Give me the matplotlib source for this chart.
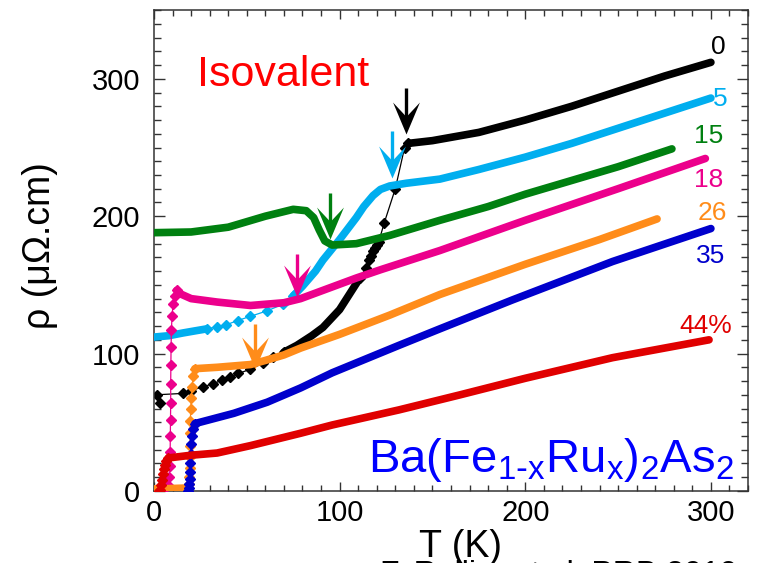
import matplotlib
matplotlib.use("Agg")
import matplotlib.pyplot as plt
from matplotlib.ticker import MultipleLocator
from matplotlib.path import Path

plt.rcParams['font.family'] = ['Liberation Sans', 'DejaVu Sans']
plt.rcParams['mathtext.default'] = 'regular'

# ---- data (T in K, rho in uOhm.cm) ----
# x = 0
T0_lo = [3.0, 1.5, 15.8, 20, 26.6, 32, 36.4, 41, 45.5, 51.7, 58.7, 64, 70]
R0_lo = [64, 70, 71, 73, 76, 78, 80.6, 83, 85.5, 88.5, 93, 97.5, 101]
T0_mid = [70, 77, 85, 91, 100, 109, 111]
R0_mid = [101, 106, 113, 119, 132, 151, 155]
T0_tr = [111, 114, 116, 117, 118, 119, 120, 121, 124, 130, 135, 137]
R0_tr = [155, 162, 168, 171, 175, 177, 179, 181, 195, 220, 250, 253]
T0_hi = [137, 150, 175, 200, 225, 250, 275, 300]
R0_hi = [253, 255, 261, 270, 280, 291, 302, 312]

# x = 5
T5_lo = [0, 8, 15.6, 22, 28.5]
R5_lo = [112, 113, 115, 116.5, 118]
T5_mid = [28.5, 34, 39, 45, 51.7, 60.7, 69.7, 75]
R5_mid = [118, 119.5, 121, 124, 127, 131, 136, 142]
T5_hi = [75, 80, 87, 91, 100, 109, 113, 118, 122, 127, 136, 154, 175, 200, 225, 250, 275, 300]
R5_hi = [142, 149, 160, 168, 183, 199, 207, 215, 219.5, 222, 224, 227, 234, 243, 253, 264, 275, 286]

# x = 15
T15 = [0, 20, 40, 60, 75, 82, 86, 89, 92, 96, 109, 127, 154, 180, 200, 225, 250, 279]
R15 = [188, 188.5, 192, 200, 205, 204, 199, 190, 182, 179, 180, 186, 197, 207, 216, 226, 236, 249]

# x = 18
T18_tr = [2, 4, 6, 7.5, 8.3, 8.6, 8.7, 8.8, 8.9, 9.0, 9.0, 9.1, 9.2, 9.4, 9.7, 10.3, 11.2, 12.2]
R18_tr = [1, 1.5, 2.5, 4, 10, 18, 28, 40, 52, 64, 78, 92, 105, 117, 127, 136, 142, 146]
T18 = [12.2, 15, 20, 34, 52, 70, 79, 91, 109, 122, 154, 200, 250, 297]
R18 = [146, 143, 140, 137.5, 135, 137, 140, 146, 155, 161, 175, 197, 220, 242]

# x = 26
T26_sc = [0, 5, 10, 15, 18]
R26_sc = [1.5, 1.5, 1.8, 2, 2.2]
T26_tr = [18, 18.6, 19, 19.2, 19.3, 19.4, 19.5, 19.6, 19.8, 20.1, 20.5, 21.2, 22]
R26_tr = [2.2, 5, 10, 17, 25, 33, 42, 51, 60, 68, 76, 84, 89]
T26 = [22, 34, 52, 60, 70, 79, 100, 127, 154, 200, 240, 271]
R26 = [89, 90, 92, 95, 99, 104, 114, 128, 143, 165, 183, 198]

# x = 35
T35_tr = [18.5, 18.8, 19.0, 19.2, 19.4, 19.6, 19.8, 20.1, 20.5, 21, 22]
R35_tr = [0, 2, 5, 9, 14, 20, 27, 34, 40, 45, 49]
T35 = [22, 43, 61, 79, 96, 132, 154, 193, 247, 300]
R35 = [49, 56.5, 64.6, 75, 86, 106, 118, 139, 167, 191]

# x = 44
T44_tr = [2.5, 3.2, 3.8, 4.3, 4.8, 5.2, 5.8, 6.5, 7.7]
R44_tr = [0, 1, 4, 8, 12, 16, 19, 22, 24]
T44 = [7.7, 20, 34, 52, 79, 96, 132, 165, 200, 247, 299]
R44 = [24, 26, 27.6, 33, 42, 48, 59, 70, 82, 97, 110]

# transition arrows: (T, rho_start, rho_tip)
arrow_T = [136, 128.3, 94.8, 76.8, 54.4]
arrow_R0 = [293, 262, 217, 172.6, 121.8]
arrow_R1 = [260, 228, 183.5, 141, 89]

# curve labels
lab_text = ['0', '5', '15', '18', '26', '35', '44%']
lab_T = [304, 305, 299, 299, 301, 300, 297]
lab_R = [318, 280, 253, 221, 197, 166, 115]

c0 = '#000000'
c5 = '#00AEEF'
c15 = '#008010'
c18 = '#EC008C'
c26 = '#FF8C1A'
c35 = '#0000CC'
c44 = '#E00000'
arrow_colors = [c0, c5, c15, c18, c26]
lab_colors = [c0, c5, c15, c18, c26, c35, c44]

THICK = dict(lw=5.5, solid_capstyle='round', solid_joinstyle='round')
SPARSE = dict(lw=0.9, marker='D', ms=5)

# notched arrow head, tip at the origin, pointing down
HEAD = Path([(0, 0), (0.42, 1.0), (0, 0.55), (-0.42, 1.0), (0, 0)],
            [Path.MOVETO, Path.LINETO, Path.LINETO, Path.LINETO, Path.CLOSEPOLY])

fig = plt.figure(figsize=(7.68, 5.63), dpi=100)
ax = fig.add_axes([0.2005, 0.128, 0.7735, 0.854])

# black
ax.plot(T0_lo, R0_lo, color=c0, **SPARSE, zorder=2)
ax.plot(T0_mid, R0_mid, color=c0, **THICK, zorder=2)
ax.plot(T0_tr, R0_tr, color=c0, **SPARSE, zorder=2)
ax.plot(T0_hi, R0_hi, color=c0, **THICK, zorder=2)
# cyan
ax.plot(T5_lo, R5_lo, color=c5, **THICK, zorder=3)
ax.plot(T5_mid, R5_mid, color=c5, **SPARSE, zorder=3)
ax.plot(T5_hi, R5_hi, color=c5, **THICK, zorder=3)
# green
ax.plot(T15, R15, color=c15, **THICK, zorder=4)
# pink
ax.plot(T18_tr, R18_tr, color=c18, **SPARSE, zorder=4)
ax.plot(T18, R18, color=c18, **THICK, zorder=4)
# orange
ax.plot(T26_sc, R26_sc, color=c26, **THICK, zorder=5)
ax.plot(T26_tr, R26_tr, color=c26, **SPARSE, zorder=5)
ax.plot(T26, R26, color=c26, **THICK, zorder=5)
# blue
ax.plot(T35_tr, R35_tr, color=c35, **SPARSE, zorder=5)
ax.plot(T35, R35, color=c35, **THICK, zorder=5)
# red
ax.plot(T44_tr, R44_tr, color=c44, **SPARSE, zorder=6)
ax.plot(T44, R44, color=c44, **THICK, zorder=6)

# arrows: shaft + notched head
for t, r0, r1, col in zip(arrow_T, arrow_R0, arrow_R1, arrow_colors):
    ax.plot([t, t], [r0, r1 + 8], color=col, lw=2.4, solid_capstyle='butt', zorder=7)
    ax.plot([t], [r1], marker=HEAD, ms=46, color=col, mec='none', zorder=8)

for s, t, r, col in zip(lab_text, lab_T, lab_R, lab_colors):
    ax.text(t, r, s, color=col, fontsize=19, ha='center', va='baseline')

ax.text(69.7, 295, 'Isovalent', color='#FF0000', fontsize=31, ha='center', va='baseline')
ax.text(214, 14, r'$Ba(Fe_{1\text{-}x}Ru_x)_2As_2$', color='#0000FF',
        fontsize=34, ha='center', va='baseline')

ax.set_xlim(0, 320)
ax.set_ylim(0, 350)
ax.xaxis.set_major_locator(MultipleLocator(100))
ax.xaxis.set_minor_locator(MultipleLocator(10))
ax.yaxis.set_major_locator(MultipleLocator(100))
ax.yaxis.set_minor_locator(MultipleLocator(10))
ax.tick_params(axis='both', which='both', direction='in', top=True, right=True,
               labelsize=21, width=1.0, color='#333333')
ax.tick_params(axis='x', which='major', length=6.5, pad=6)
ax.tick_params(axis='x', which='minor', length=4)
ax.tick_params(axis='y', which='major', length=8, pad=10)
ax.tick_params(axis='y', which='minor', length=5)
for sp in ax.spines.values():
    sp.set_linewidth(1.1)
    sp.set_color('#333333')

fig.text(0.052, 0.563, 'ρ (μΩ.cm)', rotation=90, fontsize=27, ha='center', va='center')
fig.text(0.600, 0.0107, 'T (K)', fontsize=27, ha='center', va='baseline')
fig.text(0.495, -0.0355, 'F. Rullier et al. PRB 2010', fontsize=23, ha='left', va='baseline')

fig.savefig('out.png', dpi=100)
